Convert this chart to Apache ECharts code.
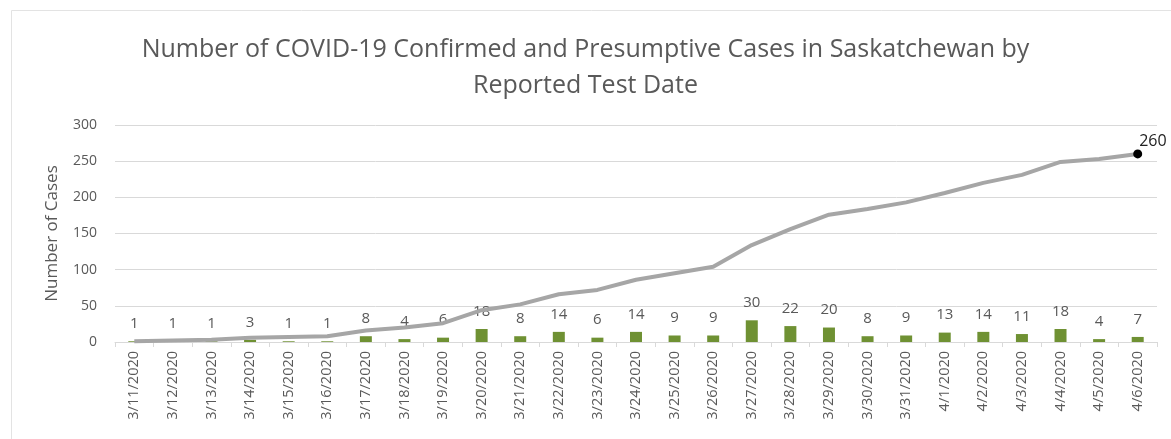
<!DOCTYPE html>
<html><head><meta charset="utf-8">
<script src="https://cdn.jsdelivr.net/npm/echarts@6/dist/echarts.min.js"></script>
<style>html,body{margin:0;padding:0;background:#fff}#c{width:1171px;height:439px}</style>
</head><body><div id="c"></div>
<script>
const categories = ['3/11/2020','3/12/2020','3/13/2020','3/14/2020','3/15/2020','3/16/2020','3/17/2020','3/18/2020','3/19/2020','3/20/2020','3/21/2020','3/22/2020','3/23/2020','3/24/2020','3/25/2020','3/26/2020','3/27/2020','3/28/2020','3/29/2020','3/30/2020','3/31/2020','4/1/2020','4/2/2020','4/3/2020','4/4/2020','4/5/2020','4/6/2020'];
const dailyCases = [1,1,1,3,1,1,8,4,6,18,8,14,6,14,9,9,30,22,20,8,9,13,14,11,18,4,7];
const cumulativeCases = [1,2,3,6,7,8,16,20,26,44,52,66,72,86,95,104,134,156,176,184,193,206,220,231,249,253,260];
const titleText = 'Number of COVID-19 Confirmed and Presumptive Cases in Saskatchewan by\nReported Test Date';
const yAxisName = 'Number of Cases';

const FONT = 'Open Sans';
const TXT = '#595959';
const chart = echarts.init(document.getElementById('c'));
const lastIdx = cumulativeCases.length - 1;
chart.setOption({
  animation: false,
  graphic: [{type:'rect', shape:{x:11.5,y:10.5,width:1170,height:440}, style:{fill:'none', stroke:'#e3e3e3', lineWidth:1}}],
  title: {text: titleText, left: 'center', top: 27,
    textStyle:{fontFamily: FONT, fontSize: 25, fontWeight:'normal', color: TXT, lineHeight: 36}},
  grid: {left:115, right:14, top:125, bottom:97},
  xAxis: {type:'category', data: categories, boundaryGap: true,
    axisLine:{lineStyle:{color:'#d9d9d9'}},
    axisTick:{show:true, length:5, lineStyle:{color:'#d9d9d9'}},
    axisLabel:{rotate:90, interval:0, fontFamily:FONT, fontSize:14.5, color:TXT, margin:9}},
  yAxis: {type:'value', min:0, max:300, interval:50, name: yAxisName, nameLocation:'middle', nameGap:54,
    nameTextStyle:{fontFamily:FONT, fontSize:17, color:TXT},
    axisLine:{show:false}, axisTick:{show:false},
    axisLabel:{fontFamily:FONT, fontSize:14, color:TXT, margin:18},
    splitLine:{lineStyle:{color:'#d9d9d9'}}},
  series: [
    {type:'bar', data: dailyCases, barWidth:12, itemStyle:{color:'#6f9133'},
      label:{show:true, position:'top', distance:10, fontFamily:FONT, fontSize:15, color:TXT}},
    {type:'line', data: cumulativeCases.map((v,i)=> i===lastIdx ? {value:v, symbol:'circle', symbolSize:9,
        itemStyle:{color:'#000'}, label:{show:true, position:'right', offset:[-8,-12], formatter:'{c}', fontFamily:FONT, fontSize:16, color:'#222'}} : v),
      showSymbol:true, symbol:'none', lineStyle:{color:'#a6a6a6', width:4}, z:3}
  ]
});
</script></body></html>
